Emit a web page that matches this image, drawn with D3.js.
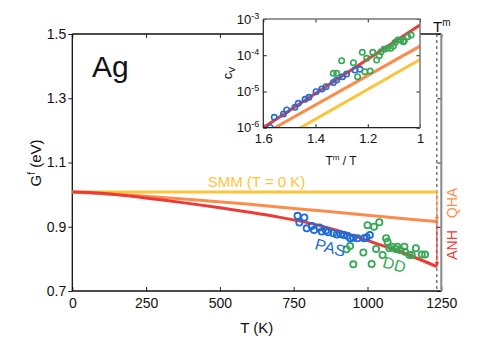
<!DOCTYPE html>
<html><head><meta charset="utf-8">
<script src="https://cdn.jsdelivr.net/npm/d3@7"></script>
<style>
body{margin:0;background:#fff;}
svg{display:block;font-family:"Liberation Sans",Arial,Helvetica,sans-serif;}
</style></head>
<body><svg id="c" width="491" height="343"></svg>
<script>
// ---------- data ----------
const tTicks = [0, 250, 500, 750, 1000, 1250];
const gTicks = [0.7, 0.9, 1.1, 1.3, 1.5];
const Tm = 1235;
const smmT = [0, 1235];
const smmG = [1.008, 1.008];
const qhaT = [0, 200, 400, 600, 800, 1000, 1235];
const qhaG = [1.008, 0.998, 0.985, 0.970, 0.953, 0.936, 0.916];
const anhT = [0, 100, 200, 300, 400, 500, 600, 700, 800, 900, 1000, 1100, 1235];
const anhG = [1.008, 1.004, 0.995, 0.984, 0.972, 0.959, 0.945, 0.930, 0.912, 0.888, 0.857, 0.826, 0.776];
const pasT = [763, 786, 769, 794, 811, 819, 837, 845, 859, 867, 884, 896, 909, 920, 932, 941, 952, 966, 988, 997, 1008];
const pasG = [0.934, 0.929, 0.913, 0.895, 0.902, 0.890, 0.898, 0.885, 0.888, 0.883, 0.880, 0.876, 0.877, 0.874, 0.872, 0.864, 0.866, 0.864, 0.864, 0.867, 0.874];
const ddT = [929, 941, 952, 986, 1000, 1014, 1022, 1029, 1040, 1051, 1063, 1068, 1074, 1082, 1095, 1101, 1110, 1125, 1127, 1142, 1150, 1164, 1184, 1195];
const ddG = [0.830, 0.840, 0.783, 0.820, 0.905, 0.784, 0.900, 0.831, 0.914, 0.812, 0.864, 0.853, 0.833, 0.838, 0.831, 0.838, 0.828, 0.838, 0.822, 0.812, 0.812, 0.833, 0.814, 0.814];

// inset
const inXTicks = [1.6, 1.4, 1.2, 1.0];
const inYTicks = [1e-6, 1e-5, 1e-4, 1e-3];
const inYExp = ["-6", "-5", "-4", "-3"];
const inLineX = [1.6, 1.0];
const anhC = [1.0e-6, 6.8e-4];
const qhaC = [6.6e-7, 1.78e-4];
const smmC = [2.6e-7, 7.6e-5];
const pasX = [1.574, 1.558, 1.523, 1.510, 1.479, 1.466, 1.440, 1.425, 1.398, 1.376, 1.360, 1.332, 1.319, 1.297, 1.281, 1.249, 1.230];
const pasC = [1.02e-6, 1.93e-6, 2.38e-6, 3.08e-6, 3.64e-6, 4.70e-6, 6.05e-6, 6.89e-6, 9.84e-6, 1.17e-5, 1.36e-5, 1.78e-5, 2.07e-5, 2.56e-5, 3.03e-5, 3.91e-5, 4.08e-5];
const ddX = [1.332, 1.319, 1.300, 1.255, 1.239, 1.221, 1.204, 1.211, 1.191, 1.181, 1.166, 1.156, 1.149, 1.138, 1.125, 1.112, 1.102, 1.096, 1.085, 1.074, 1.064, 1.047, 1.034, 1.060];
const ddC = [3.17e-5, 3.17e-5, 7.06e-5, 6.22e-5, 2.56e-5, 1.20e-4, 8.20e-5, 3.52e-5, 3.66e-5, 1.20e-4, 7.38e-5, 9.70e-5, 1.25e-4, 1.46e-4, 1.55e-4, 1.55e-4, 1.79e-4, 2.26e-4, 2.63e-4, 2.63e-4, 2.37e-4, 3.25e-4, 3.61e-4, 2.50e-4];

const cYellow = "#fcc43a", cOrange = "#fa8c4c", cRed = "#ee3a36", cBlue = "#1e6cd8", cGreen = "#36a856";

// ---------- main ----------
const svg = d3.select("#c");
const x = d3.scaleLinear().domain([0, 1250]).range([72.3, 441.3]);
const y = d3.scaleLinear().domain([0.7, 1.5]).range([291, 34]);

const defs = svg.append("defs");
function marker(id, col) {
  defs.append("marker").attr("id", id).attr("viewBox", "0 0 10 10").attr("refX", 10).attr("refY", 5)
    .attr("markerWidth", 4).attr("markerHeight", 4).attr("orient", "auto")
    .append("path").attr("d", "M0,0L10,5L0,10z").attr("fill", col);
}
marker("ao", cOrange); marker("ar", cRed);

// axes
const gx = svg.append("g").attr("transform", `translate(0,${y(0.7)})`)
  .call(d3.axisBottom(x).tickValues(tTicks).tickSize(-4).tickPadding(7.5).tickFormat(d3.format("d")));
const gxt = svg.append("g").attr("transform", `translate(0,${y(1.5)})`)
  .call(d3.axisTop(x).tickValues(tTicks).tickSize(-4).tickFormat(""));
const gy = svg.append("g").attr("transform", `translate(${x(0)},0)`)
  .call(d3.axisLeft(y).tickValues(gTicks).tickSize(4).tickPadding(2).tickFormat(d3.format(".1f")));
const gyr = svg.append("g").attr("transform", `translate(${x(1250)},0)`)
  .call(d3.axisRight(y).tickValues(gTicks).tickSize(-4).tickFormat(""));
[gx, gxt, gy, gyr].forEach(g => {
  g.select(".domain").remove();
  g.selectAll("line").attr("stroke", "#222");
  g.selectAll("text").attr("font-size", 14).attr("fill", "#111").attr("font-family", "Liberation Sans, Arial");
});
// frame
svg.append("path").attr("d", `M${x(0)},${y(1.5)}L${x(1250)},${y(1.5)}`).attr("stroke", "#111").attr("stroke-width", 1.3);
svg.append("path").attr("d", `M${x(0)},${y(1.5)}L${x(0)},${y(0.7)}L${x(1250)},${y(0.7)}`).attr("stroke", "#111").attr("stroke-width", 1.3).attr("fill", "none");
svg.append("path").attr("d", `M${x(1250)},${y(1.5)}L${x(1250)},${y(0.7)}`).attr("stroke", "#888").attr("stroke-width", 2);

// Tm dashed
svg.append("line").attr("x1", x(Tm)).attr("x2", x(Tm)).attr("y1", y(1.5)).attr("y2", y(0.7))
  .attr("stroke", "#333").attr("stroke-width", 1).attr("stroke-dasharray", "3,3");

const line = d3.line().x(d => x(d[0])).y(d => y(d[1])).curve(d3.curveMonotoneX);
svg.append("path").datum(d3.zip(smmT, smmG)).attr("d", line).attr("fill", "none").attr("stroke", cYellow).attr("stroke-width", 3);
svg.append("path").datum(d3.zip(qhaT, qhaG)).attr("d", line).attr("fill", "none").attr("stroke", cOrange).attr("stroke-width", 3);
svg.append("path").datum(d3.zip(anhT, anhG)).attr("d", line).attr("fill", "none").attr("stroke", cRed).attr("stroke-width", 3);

// arrows
svg.append("line").attr("x1", x(Tm)).attr("x2", x(Tm)).attr("y1", y(smmG[1])).attr("y2", y(qhaG[qhaG.length - 1]))
  .attr("stroke", cOrange).attr("stroke-width", 1.2).attr("marker-end", "url(#ao)");
svg.append("line").attr("x1", x(Tm)).attr("x2", x(Tm)).attr("y1", y(qhaG[qhaG.length - 1])).attr("y2", y(anhG[anhG.length - 1]))
  .attr("stroke", cRed).attr("stroke-width", 1.2).attr("marker-end", "url(#ar)");

// points
svg.append("g").selectAll("circle").data(d3.zip(pasT, pasG)).join("circle")
  .attr("cx", d => x(d[0])).attr("cy", d => y(d[1])).attr("r", 3.1)
  .attr("fill", "none").attr("stroke", cBlue).attr("stroke-width", 1.8);
svg.append("g").selectAll("circle").data(d3.zip(ddT, ddG)).join("circle")
  .attr("cx", d => x(d[0])).attr("cy", d => y(d[1])).attr("r", 3.1)
  .attr("fill", "none").attr("stroke", cGreen).attr("stroke-width", 1.8);

// labels
svg.append("text").attr("x", 92).attr("y", 77).attr("font-size", 30).attr("fill", "#111").text("Ag");
svg.append("text").attr("x", 256.5).attr("y", 186.5).attr("text-anchor", "middle").attr("font-size", 15).attr("fill", cYellow).text("SMM (T = 0 K)");
svg.append("text").attr("transform", "translate(329,253) rotate(15)").attr("text-anchor", "middle").attr("font-size", 16).attr("fill", cBlue).text("PAS");
svg.append("text").attr("transform", "translate(393,270) rotate(15)").attr("text-anchor", "middle").attr("font-size", 16).attr("fill", cGreen).text("DD");
svg.append("text").attr("transform", "translate(457,203) rotate(-90)").attr("text-anchor", "middle").attr("font-size", 14).attr("fill", cOrange).text("QHA");
svg.append("text").attr("transform", "translate(457,245) rotate(-90)").attr("text-anchor", "middle").attr("font-size", 14).attr("fill", cRed).text("ANH");
const tmL = svg.append("text").attr("x", 433).attr("y", 32).attr("font-size", 15).attr("fill", "#111");
tmL.append("tspan").text("T");
tmL.append("tspan").attr("font-size", 10).attr("dy", -6).text("m");

svg.append("text").attr("x", 256.8).attr("y", 333).attr("text-anchor", "middle").attr("font-size", 15).attr("fill", "#111").text("T (K)");
const yl = svg.append("text").attr("transform", "translate(41,163) rotate(-90)").attr("text-anchor", "middle").attr("font-size", 15).attr("fill", "#111");
yl.append("tspan").text("G");
yl.append("tspan").attr("font-size", 10).attr("dy", -6).text("f");
yl.append("tspan").attr("dy", 6).text(" (eV)");

// ---------- inset ----------
const ix = d3.scaleLinear().domain([1.6, 1.0]).range([263.3, 420]);
const iy = d3.scaleLog().domain([1e-6, 1e-3]).range([127.7, 19]);
const ins = svg.append("g");
ins.append("rect").attr("x", 263.3).attr("y", 19).attr("width", 420 - 263.3).attr("height", 127.7 - 19).attr("fill", "#fff");
defs.append("clipPath").attr("id", "ic").append("rect").attr("x", 263.3).attr("y", 19).attr("width", 420 - 263.3).attr("height", 127.7 - 19);

const ixa = ins.append("g").attr("transform", `translate(0,127.7)`)
  .call(d3.axisBottom(ix).tickValues(inXTicks).tickSize(-3.5).tickPadding(6).tickFormat(d => d === 1 ? "1" : d3.format(".1f")(d)));
const ixt = ins.append("g").attr("transform", `translate(0,19)`)
  .call(d3.axisTop(ix).tickValues(inXTicks).tickSize(-3.5).tickFormat(""));
const iya = ins.append("g").attr("transform", `translate(263.3,0)`)
  .call(d3.axisLeft(iy).tickValues(inYTicks).tickSize(-3.5).tickPadding(4).tickFormat(""));
const iyr = ins.append("g").attr("transform", `translate(420,0)`)
  .call(d3.axisRight(iy).tickValues(inYTicks).tickSize(-3.5).tickFormat(""));
[ixa, ixt, iya, iyr].forEach(g => {
  g.select(".domain").remove();
  g.selectAll("line").attr("stroke", "#222");
  g.selectAll("text").attr("font-size", 13).attr("fill", "#111").attr("font-family", "Liberation Sans, Arial");
});
// y tick labels with superscripts
iya.selectAll(".tick").each(function (d, i) {
  const t = d3.select(this).append("text").attr("x", -4).attr("dy", "0.32em").attr("text-anchor", "end")
    .attr("fill", "#111").attr("font-size", 13).attr("font-family", "Liberation Sans, Arial");
  t.append("tspan").text("10");
  t.append("tspan").attr("font-size", 9).attr("dy", -5).text(inYExp[inYTicks.indexOf(d)]);
});

const il = d3.line().x(d => ix(d[0])).y(d => iy(d[1]));
const lg = ins.append("g").attr("clip-path", "url(#ic)");
lg.append("path").datum(d3.zip(inLineX, smmC)).attr("d", il).attr("stroke", cYellow).attr("stroke-width", 3).attr("fill", "none");
lg.append("path").datum(d3.zip(inLineX, qhaC)).attr("d", il).attr("stroke", cOrange).attr("stroke-width", 3).attr("fill", "none");
lg.append("path").datum(d3.zip(inLineX, anhC)).attr("d", il).attr("stroke", cRed).attr("stroke-width", 3).attr("fill", "none");
lg.append("g").selectAll("circle").data(d3.zip(pasX, pasC)).join("circle")
  .attr("cx", d => ix(d[0])).attr("cy", d => iy(d[1])).attr("r", 2.7)
  .attr("fill", "none").attr("stroke", cBlue).attr("stroke-width", 1.6);
lg.append("g").selectAll("circle").data(d3.zip(ddX, ddC)).join("circle")
  .attr("cx", d => ix(d[0])).attr("cy", d => iy(d[1])).attr("r", 2.7)
  .attr("fill", "none").attr("stroke", cGreen).attr("stroke-width", 1.6);

ins.append("path").attr("d", `M263.3,19L263.3,127.7L420,127.7`).attr("stroke", "#222").attr("stroke-width", 1.2).attr("fill", "none");
ins.append("path").attr("d", `M263.3,19L420,19L420,127.7`).attr("stroke", "#777").attr("stroke-width", 1.5).attr("fill", "none");

const ixl = ins.append("text").attr("x", 341).attr("y", 165).attr("text-anchor", "middle").attr("font-size", 12).attr("fill", "#111");
ixl.append("tspan").text("T");
ixl.append("tspan").attr("font-size", 8).attr("dy", -5).text("m");
ixl.append("tspan").attr("dy", 5).text(" / T");
const iyl = ins.append("text").attr("transform", "translate(232,73) rotate(-90)").attr("text-anchor", "middle").attr("font-size", 13).attr("fill", "#111");
iyl.append("tspan").text("c");
iyl.append("tspan").attr("font-size", 9).attr("dy", 3).text("V");
</script></body></html>
